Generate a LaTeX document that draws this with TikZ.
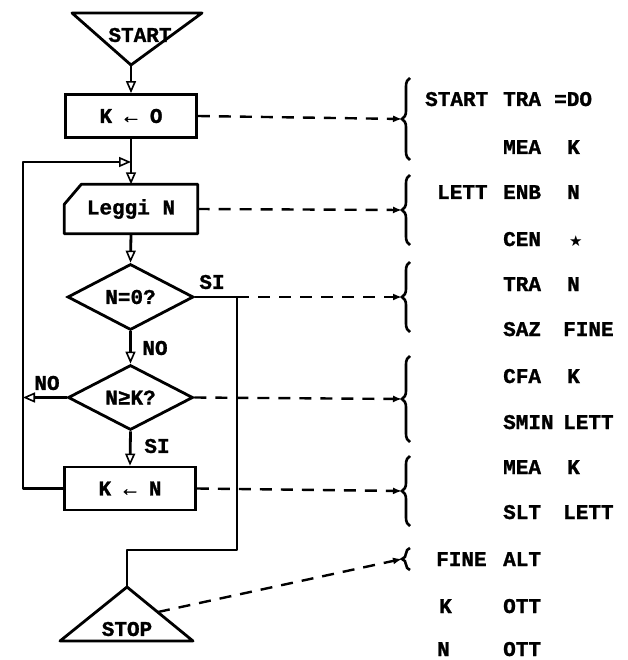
\documentclass[tikz,border=0pt]{standalone}
\usepackage{fontspec}
\newfontfamily\typefont{Liberation Mono}[BoldFeatures={FakeBold=1.2}]
\newfontfamily\symfont{DejaVu Sans}
\usetikzlibrary{shapes.geometric, arrows.meta, decorations.pathreplacing}

\begin{document}
\begin{tikzpicture}[
    x=1pt, y=-1pt,
    font={\typefont\bfseries\fontsize{21}{24}\selectfont},
    box/.style={rectangle, draw=black, line width=2.8pt, minimum width=131pt, minimum height=43pt, inner sep=0pt},
    test/.style={diamond, draw=black, line width=2.8pt, minimum width=126pt, minimum height=66pt, inner sep=0pt},
    flow/.style={line width=2.8pt, line join=round},
    arrow/.style={flow, -{Triangle[open, length=12pt, width=10pt, line width=1.6pt]}},
    link/.style={line width=2.4pt, dash pattern=on 12pt off 9pt, -{Latex[length=9pt, width=7pt]}},
    grp/.style={decorate, decoration={brace, amplitude=8pt}, line width=2.6pt},
    tag/.style={inner sep=1pt},
    code/.style={anchor=base west, inner sep=0pt}
]
\useasboundingbox (0,0) rectangle (627,660);

% flowchart
\coordinate (startTip) at (131,65);
\draw[flow] (72,13) -- (202,13) -- (startTip) -- cycle;
\node (start) at (140,35) {START};

\node[box] (init) at (131,116) {K ← O};

\node[minimum width=133pt, minimum height=49pt, inner sep=0pt] (leggi) at (131,209) {Leggi N};
\draw[flow] ([xshift=17pt]leggi.north west) -- (leggi.north east) -- (leggi.south east)
    -- (leggi.south west) -- ([yshift=-20pt]leggi.north west) -- cycle;

\node[test] (test1) at (130.5,297) {N=0?};
\node[test, minimum width=125pt, minimum height=65pt] (test2) at (130.5,397.5) {N≥K?};

\node[box] (setK) at (130,488.5) {K ← N};

\coordinate (stopApex) at (127,587);
\coordinate (stopSide) at (158,612);
\draw[flow] (stopApex) -- (193,641) -- (60,641) -- cycle;
\node (stop) at (127,629) {STOP};

\coordinate (merge) at (131,162);
\coordinate (loopTop) at (23,162);
\coordinate (siCorner) at (237,297);
\coordinate (siDrop) at (237,550);

\draw[arrow] (startTip) -- (init.north);
\draw[arrow] (init.south) -- (leggi.north);
\draw[arrow] (leggi.south) -- (test1.north);
\draw[arrow] (test1.south) -- (test2.north);
\draw[arrow] (test2.south) -- (setK.north);
\draw[arrow] (setK.west) -| (loopTop) -- (merge);
\draw[arrow] (test2.west) -- (test2.west -| loopTop);
\draw[flow] (test1.east) -- (siCorner) -- (siDrop) -| (stopApex);

\node[tag] (si1) at (212,282) {SI};
\node[tag] (no1) at (155,348) {NO};
\node[tag] (no2) at (47,383) {NO};
\node[tag] (si2) at (157,446) {SI};

% braces
\draw[grp] (410,160) -- (410,78);
\draw[grp] (410,245) -- (410,175);
\draw[grp] (410,332) -- (410,262);
\draw[grp] (410,442) -- (410,356);
\draw[grp] (410,526) -- (410,456);
\draw[grp] (410,570) -- (410,548);
\coordinate (g1) at (402,119);
\coordinate (g2) at (402,210);
\coordinate (g3) at (402,297);
\coordinate (g4) at (402,399);
\coordinate (g5) at (402,491);
\coordinate (g6) at (402,559);

\draw[link] (init.east) -- (g1);
\draw[link] (leggi.east) -- (g2);
\draw[link] (siCorner) -- (g3);
\draw[link] (test2.east) -- (g4);
\draw[link] (setK.east) -- (g5);
\draw[link] (stopSide) -- (g6);

% program
\node[code] (l1) at (425,106) {START};
\node[code] (o1) at (503,106) {TRA};
\node[code] (a1) at (554,106) {=DO};
\node[code] (o2) at (503,154) {MEA};
\node[code] (a2) at (567,154) {K};
\node[code] (l3) at (437,199) {LETT};
\node[code] (o3) at (503,199) {ENB};
\node[code] (a3) at (567,199) {N};
\node[code] (o4) at (503,246) {CEN};
\node[code, font={\symfont\fontsize{15}{15}\selectfont}] (a4) at (569,246) {★};
\node[code] (o5) at (503,291) {TRA};
\node[code] (a5) at (567,291) {N};
\node[code] (o6) at (503,336) {SAZ};
\node[code] (a6) at (563,336) {FINE};
\node[code] (o7) at (503,383) {CFA};
\node[code] (a7) at (567,383) {K};
\node[code] (o8) at (503,429) {SMIN};
\node[code] (a8) at (563,429) {LETT};
\node[code] (o9) at (503,474) {MEA};
\node[code] (a9) at (567,474) {K};
\node[code] (o10) at (503,519) {SLT};
\node[code] (a10) at (563,519) {LETT};
\node[code] (l11) at (436,566) {FINE};
\node[code] (o11) at (503,566) {ALT};
\node[code] (l12) at (439,613) {K};
\node[code] (o12) at (503,613) {OTT};
\node[code] (l13) at (437,656) {N};
\node[code] (o13) at (503,656) {OTT};

\end{tikzpicture}
\end{document}
